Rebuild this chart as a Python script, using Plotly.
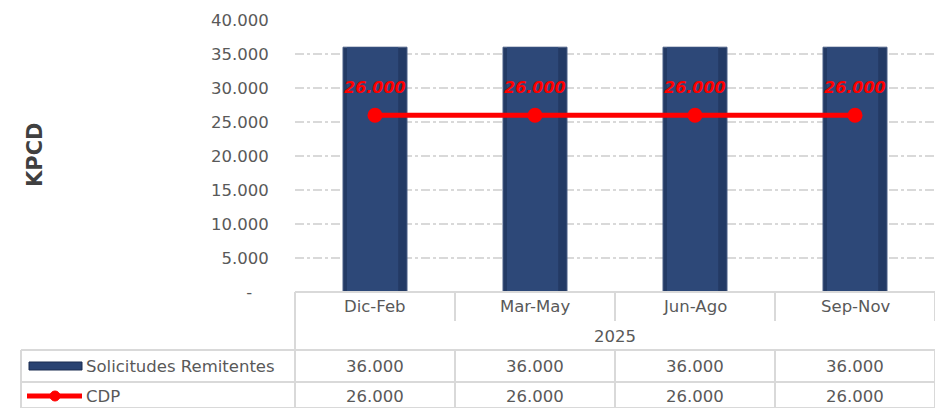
import plotly.graph_objects as go

categories = ["Dic-Feb", "Mar-May", "Jun-Ago", "Sep-Nov"]
year_label = "2025"
solicitudes = [36000, 36000, 36000, 36000]
cdp = [26000, 26000, 26000, 26000]
series_names = ["Solicitudes Remitentes", "CDP"]
y_ticks = [0, 5000, 10000, 15000, 20000, 25000, 30000, 35000, 40000]
y_title = "KPCD"

FONT = "DejaVu Sans"
FS = 16.5
TXT = "#595959"
GRID = "#d9d9d9"
NAVY = "#2a4372"
NAVY_DARK = "#233a64"
NAVY_LIGHT = "#2d4878"
RED = "#ff0000"


def fmt(v):
    if v == 0:
        return "-\u2002\u2002"
    return f"{v:,.0f}".replace(",", ".")


W, H = 935, 408
L, R, T, B = 295, 0, 20, 116
pw, ph = W - L - R, H - T - B


def px(xp):
    return (xp - L) / pw


def py(yp):
    return (H - B - yp) / ph


fig = go.Figure()
fig.add_trace(go.Bar(
    x=categories, y=solicitudes, name=series_names[0], width=0.4,
    marker=dict(color=NAVY_DARK, line=dict(color="#4a5f85", width=1)),
    showlegend=False,
))
fig.add_trace(go.Bar(
    x=categories, y=solicitudes, name=series_names[0], width=0.32, offset=-0.175,
    marker=dict(color=NAVY_LIGHT, line=dict(width=0)),
    showlegend=False, hoverinfo="skip",
))
fig.add_trace(go.Scatter(
    x=categories, y=cdp, name=series_names[1], mode="lines+markers",
    line=dict(color=RED, width=5), marker=dict(color=RED, size=15),
    showlegend=False,
))

annotations = []
for c, v in zip(categories, cdp):
    annotations.append(dict(
        x=c, y=v, xref="x", yref="y", text=f"<b><i>{fmt(v)}</i></b>",
        showarrow=False, yshift=28,
        font=dict(family=FONT, size=16, color=RED),
    ))

row_y = [306, 336, 366, 396]
cell_font = dict(family=FONT, size=FS, color=TXT)
for c in categories:
    annotations.append(dict(x=c, y=py(row_y[0]), xref="x", yref="paper",
                            text=c, showarrow=False, yanchor="middle",
                            font=cell_font))
annotations.append(dict(x=0.5, y=py(row_y[1]), xref="paper", yref="paper",
                        text=year_label, showarrow=False, yanchor="middle",
                        font=cell_font))
for i, vals in enumerate([solicitudes, cdp]):
    for c, v in zip(categories, vals):
        annotations.append(dict(x=c, y=py(row_y[2 + i]), xref="x", yref="paper",
                                text=fmt(v), showarrow=False, yanchor="middle",
                                font=cell_font))
    annotations.append(dict(x=px(84), y=py(row_y[2 + i]), xref="paper", yref="paper",
                            text=series_names[i], showarrow=False, xanchor="left",
                            yanchor="middle", font=cell_font))

annotations.append(dict(x=px(35), y=py(155), xref="paper", yref="paper",
                        text=f"<b>{y_title}</b>", textangle=-90, showarrow=False,
                        xanchor="center", yanchor="middle",
                        font=dict(family=FONT, size=21, color="#404040")))

shapes = []
lc = dict(color=GRID, width=2)
shapes.append(dict(type="line", xref="paper", yref="paper", x0=0, x1=1,
                   y0=py(292), y1=py(292), line=lc))
for yy in [350, 382, 408]:
    shapes.append(dict(type="line", xref="paper", yref="paper", x0=px(21), x1=1,
                       y0=py(yy), y1=py(yy), line=lc))
for i in range(len(categories) + 1):
    xx = i / len(categories)
    if i == 0:
        shapes.append(dict(type="line", xref="paper", yref="paper", x0=xx, x1=xx,
                           y0=py(292), y1=py(408), line=lc))
    else:
        shapes.append(dict(type="line", xref="paper", yref="paper", x0=xx, x1=xx,
                           y0=py(292), y1=py(321), line=lc))
        shapes.append(dict(type="line", xref="paper", yref="paper", x0=xx, x1=xx,
                           y0=py(350), y1=py(408), line=lc))
shapes.append(dict(type="line", xref="paper", yref="paper", x0=px(21), x1=px(21),
                   y0=py(350), y1=py(408), line=lc))
# legend keys
shapes.append(dict(type="rect", xref="paper", yref="paper", x0=px(29), x1=px(82),
                   y0=py(362), y1=py(370), fillcolor=NAVY,
                   line=dict(color="#1b2d50", width=1)))
shapes.append(dict(type="line", xref="paper", yref="paper", x0=px(27), x1=px(82),
                   y0=py(396), y1=py(396), line=dict(color=RED, width=5)))
shapes.append(dict(type="circle", xref="paper", yref="paper", x0=px(50), x1=px(60),
                   y0=py(391), y1=py(401), fillcolor=RED, line=dict(color=RED, width=1)))

fig.update_layout(
    width=W, height=H,
    margin=dict(l=L, r=R, t=T, b=B),
    paper_bgcolor="white", plot_bgcolor="white",
    barmode="overlay",
    annotations=annotations, shapes=shapes,
    showlegend=False,
    font=dict(family=FONT, size=FS, color=TXT),
)
fig.update_xaxes(showticklabels=False, showgrid=False, showline=False, ticks="",
                 range=[-0.5, len(categories) - 0.5])
fig.update_yaxes(range=[0, 40000], tickvals=y_ticks,
                 ticktext=[fmt(v) for v in y_ticks],
                 showgrid=True, gridcolor=GRID, gridwidth=2, griddash="dashdot",
                 zeroline=False, showline=False,
                 ticks="outside", ticklen=22, tickcolor="rgba(0,0,0,0)",
                 tickfont=dict(family=FONT, size=FS, color=TXT))

fig.write_html("out.html", config={"displayModeBar": False},
               post_script="document.body.style.margin='0';")
